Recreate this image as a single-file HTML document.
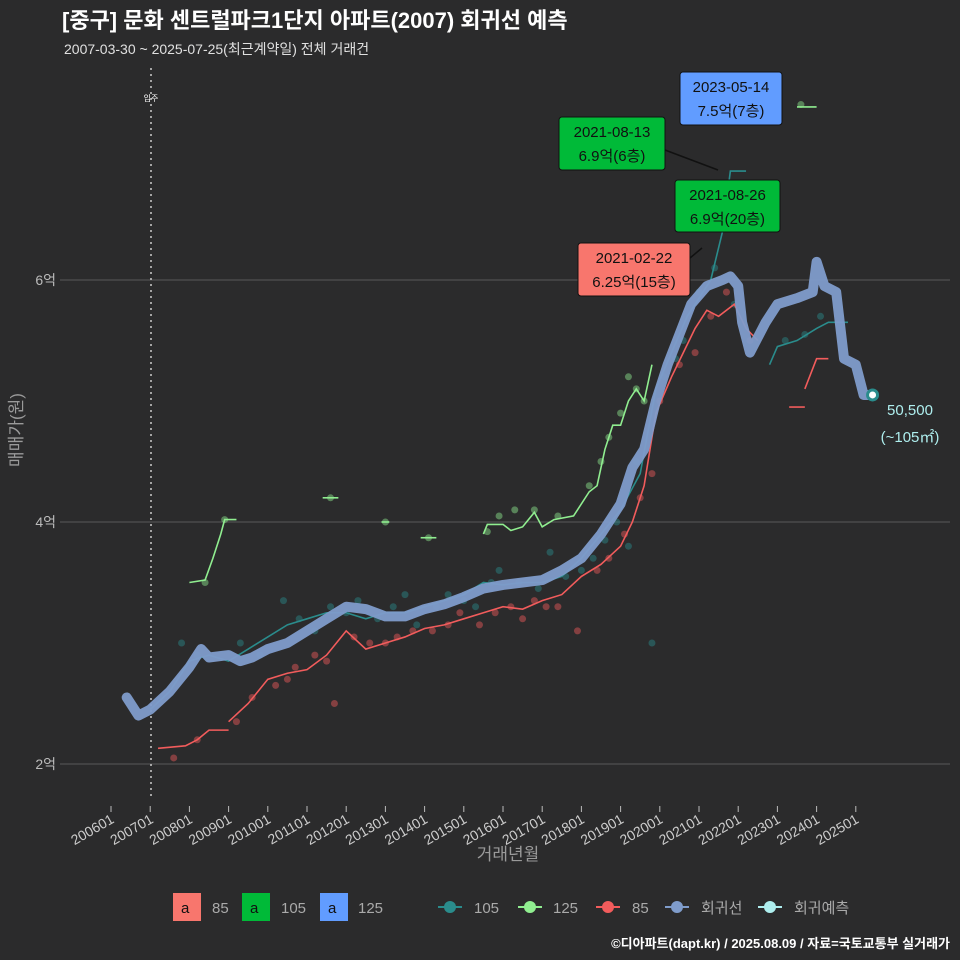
<!DOCTYPE html>
<html><head><meta charset="utf-8">
<style>
body{margin:0;background:#2b2b2c;}
svg{display:block;font-family:"Liberation Sans","Noto Sans CJK KR",sans-serif;}
</style></head>
<body>
<svg id="chart" width="960" height="960" viewBox="0 0 960 960" xmlns="http://www.w3.org/2000/svg">
<rect width="960" height="960" fill="#2b2b2c"/>
<text x="62" y="28" font-size="22" font-weight="bold" fill="#ffffff">[중구] 문화 센트럴파크1단지 아파트(2007) 회귀선 예측</text>
<text x="64" y="54" font-size="14" fill="#e0e0e0">2007-03-30 ~ 2025-07-25(최근계약일) 전체 거래건</text>
<g id="grid"></g>
<g id="marks"></g>
<g id="annot"></g>
<text x="22" y="430" font-size="17" fill="#9a9a9a" transform="rotate(-90 22 430)" text-anchor="middle">매매가(원)</text>
<text x="508" y="860" font-size="17" fill="#9a9a9a" text-anchor="middle">거래년월</text>
<g font-size="15" fill="#aaaaaa">
<rect x="173" y="893" width="28" height="28" fill="#f8766d"/><text x="181" y="913" fill="#111">a</text><text x="212" y="913">85</text>
<rect x="242" y="893" width="28" height="28" fill="#00ba38"/><text x="250" y="913" fill="#111">a</text><text x="281" y="913">105</text>
<rect x="320" y="893" width="28" height="28" fill="#619cff"/><text x="328" y="913" fill="#111">a</text><text x="358" y="913">125</text>
<g><line x1="438" y1="907" x2="462" y2="907" stroke="#2a8c8c" stroke-width="2"/><circle cx="450" cy="907" r="6" fill="#2a8c8c"/><text x="474" y="913">105</text></g>
<g><line x1="518" y1="907" x2="542" y2="907" stroke="#90ee90" stroke-width="2"/><circle cx="530" cy="907" r="6" fill="#90ee90"/><text x="553" y="913">125</text></g>
<g><line x1="596" y1="907" x2="620" y2="907" stroke="#f25c5c" stroke-width="2"/><circle cx="608" cy="907" r="6" fill="#f25c5c"/><text x="632" y="913">85</text></g>
<g><line x1="665" y1="907" x2="689" y2="907" stroke="#7f9ccb" stroke-width="2"/><circle cx="677" cy="907" r="6" fill="#7f9ccb"/><text x="701" y="913">회귀선</text></g>
<g><line x1="758" y1="907" x2="782" y2="907" stroke="#aeeeee" stroke-width="2"/><circle cx="770" cy="907" r="6" fill="#aeeeee"/><text x="794" y="913">회귀예측</text></g>
</g>
<text x="950" y="948" font-size="13" font-weight="bold" fill="#ffffff" text-anchor="end">©디아파트(dapt.kr) / 2025.08.09 / 자료=국토교통부 실거래가</text>
</svg>
<script>
const yTicks=[2,4,6];
const yTickLabels=["2억","4억","6억"];
const xTickYears=[2006,2007,2008,2009,2010,2011,2012,2013,2014,2015,2016,2017,2018,2019,2020,2021,2022,2023,2024,2025];
const xTickLabels=["200601","200701","200801","200901","201001","201101","201201","201301","201401","201501","201601","201701","201801","201901","202001","202101","202201","202301","202401","202501"];
const regT=[2006.4,2006.7,2007.0,2007.5,2008,2008.3,2008.5,2009,2009.3,2009.6,2010,2010.5,2011,2011.5,2012,2012.5,2013,2013.5,2014,2014.5,2015,2015.5,2016,2016.5,2017,2017.5,2018,2018.5,2019,2019.3,2019.6,2019.9,2020.2,2020.5,2020.8,2021.2,2021.6,2021.8,2022.0,2022.1,2022.3,2022.7,2023.0,2023.5,2023.9,2024.0,2024.2,2024.5,2024.7,2025.0,2025.2,2025.3];
const regV=[2.55,2.4,2.45,2.6,2.8,2.95,2.88,2.9,2.85,2.88,2.95,3.0,3.1,3.2,3.3,3.28,3.22,3.22,3.28,3.32,3.38,3.45,3.48,3.5,3.52,3.6,3.7,3.9,4.15,4.45,4.6,5.0,5.3,5.55,5.8,5.95,6.0,6.03,5.95,5.65,5.4,5.65,5.8,5.85,5.9,6.15,5.95,5.9,5.35,5.3,5.05,5.05];
const s105T=[[2007.0,2007.5,2008,2008.5,2009,2009.5,2010,2010.5,2011,2011.5,2012,2012.5,2013,2013.5,2014,2014.5,2015,2015.5,2016,2016.5,2017,2017.5,2018,2018.5,2019,2019.5,2019.9,2020.3,2020.7,2021,2021.3,2021.6,2021.8,2022.2],[2022.8,2023.0,2023.5,2024.0,2024.3,2024.8]];
const s105V=[[2.45,2.6,2.85,2.9,2.85,2.95,3.05,3.15,3.2,3.25,3.25,3.2,3.25,3.25,3.3,3.35,3.4,3.5,3.48,3.5,3.5,3.55,3.7,3.9,4.1,4.4,5.1,5.4,5.7,5.85,6.0,6.4,6.9,6.9],[5.3,5.45,5.5,5.6,5.65,5.65]];
const s125T=[[2008.0,2008.4,2008.6,2008.8,2008.9,2009.2],[2011.4,2011.8],[2012.9,2013.1],[2013.9,2014.3],[2015.5,2015.6,2016,2016.2,2016.5,2016.8,2017.0,2017.3,2017.8,2018.2,2018.4,2018.6,2018.8,2019.0,2019.2,2019.4,2019.6,2019.8],[2020.9,2021.1],[2023.5,2024.0]];
const s125V=[[3.5,3.52,3.7,3.9,4.02,4.02],[4.2,4.2],[4.0,4.0],[3.87,3.87],[3.9,3.98,3.98,3.93,3.96,4.08,3.96,4.02,4.05,4.25,4.3,4.6,4.8,4.8,5.0,5.1,5.0,5.3],[7.3,7.3],[7.43,7.43]];
const s85T=[[2007.2,2007.9,2008.2,2008.5,2009.0],[2009.0,2009.5,2010,2010.5,2011,2011.5,2012,2012.5,2013,2013.5,2014,2014.5,2015,2015.5,2016,2016.5,2017,2017.5,2018,2018.5,2019,2019.3,2019.6,2019.9,2020.3,2020.6,2020.9,2021.2,2021.5,2021.9,2022.2,2022.5],[2023.3,2023.7],[2023.7,2024.0,2024.3]];
const s85V=[[2.13,2.15,2.2,2.28,2.28],[2.35,2.5,2.7,2.75,2.78,2.9,3.1,2.95,3.0,3.05,3.12,3.15,3.2,3.25,3.3,3.28,3.35,3.4,3.55,3.65,3.8,4.0,4.3,4.9,5.2,5.4,5.6,5.75,5.7,5.8,5.6,5.5],[4.95,4.95],[5.1,5.35,5.35]];
const p105T=[2007.8,2008.2,2009.3,2009.8,2010.4,2010.8,2011.2,2011.6,2012.0,2012.3,2012.8,2013.2,2013.5,2013.8,2014.3,2014.6,2015.0,2015.3,2015.7,2015.9,2016.4,2016.9,2017.2,2017.6,2018.0,2018.3,2018.6,2018.9,2019.2,2019.4,2019.8,2020.1,2020.4,2020.6,2021.0,2021.4,2021.9,2023.2,2023.7,2024.1];
const p105V=[3.0,2.9,3.0,2.9,3.35,3.2,3.1,3.3,3.25,3.35,3.2,3.3,3.4,3.15,3.3,3.4,3.35,3.3,3.5,3.6,3.5,3.45,3.75,3.55,3.6,3.7,3.85,4.0,3.8,4.5,3.0,5.2,5.35,5.5,5.9,6.1,5.8,5.5,5.55,5.7];
const p125T=[2008.4,2008.9,2011.6,2013.0,2014.1,2015.6,2015.9,2016.3,2016.8,2017.4,2018.2,2018.5,2018.7,2019.0,2019.2,2019.4,2019.6,2021.1,2023.6];
const p125V=[3.5,4.02,4.2,4.0,3.87,3.92,4.05,4.1,4.1,4.05,4.3,4.5,4.7,4.9,5.2,5.1,5.0,7.35,7.45];
const p85T=[2007.6,2008.2,2009.2,2009.6,2010.2,2010.5,2010.7,2011.2,2011.5,2011.7,2012.2,2012.6,2013.0,2013.3,2013.7,2014.2,2014.6,2014.9,2015.4,2015.8,2016.2,2016.5,2016.8,2017.1,2017.4,2017.9,2018.4,2018.7,2019.1,2019.5,2019.8,2020.0,2020.5,2020.9,2021.3,2021.7,2022.3];
const p85V=[2.05,2.2,2.35,2.55,2.65,2.7,2.8,2.9,2.85,2.5,3.05,3.0,3.0,3.05,3.1,3.1,3.15,3.25,3.15,3.25,3.3,3.2,3.35,3.3,3.3,3.1,3.6,3.7,3.9,4.2,4.4,5.0,5.3,5.4,5.7,5.9,5.5];
const ns="http://www.w3.org/2000/svg";
const X=t=>111+(t-2006)*39.2;
const Y=v=>764-(v-2)*121;
function mk(tag,attrs,parent){const e=document.createElementNS(ns,tag);for(const k in attrs)e.setAttribute(k,attrs[k]);parent.appendChild(e);return e;}
const grid=document.getElementById('grid'),marks=document.getElementById('marks'),annot=document.getElementById('annot');
yTicks.forEach((v,i)=>{
 const l=mk('line',{x1:60,x2:950,y1:Y(v),y2:Y(v),stroke:'#5a5a5a','stroke-width':1},grid);
 
 
 const t=mk('text',{x:56,y:Y(v)+5,'font-size':14,fill:'#bbbbbb','text-anchor':'end'},grid);
 t.textContent=yTickLabels[i];
 
 
});
xTickYears.forEach((yr,i)=>{
 const x=X(yr);
 const l=mk('line',{x1:x,x2:x,y1:806,y2:812,stroke:'#bbbbbb'},grid);
 
 
 const t=mk('text',{x:x+4,y:822,'font-size':14,fill:'#cccccc','text-anchor':'end',transform:`rotate(-30 ${x+4} 822)`},grid);
 t.textContent=xTickLabels[i];
 
 
});
const mv=mk('line',{x1:151,x2:151,y1:68,y2:800,stroke:'#cccccc','stroke-width':1.5,'stroke-dasharray':'2,4'},grid);


const mvt=mk('text',{x:151,y:101,'font-size':8,fill:'#ffffff','text-anchor':'middle'},grid);
mvt.textContent='입주';


function pts(T,V,color,name){T.forEach((t,i)=>{const c=mk('circle',{cx:X(t),cy:Y(V[i]),r:3.5,fill:color,'fill-opacity':0.45},marks);
 
 });}
pts(p105T,p105V,'#2a8c8c','point-105');pts(p125T,p125V,'#90ee90','point-125');pts(p85T,p85V,'#f25c5c','point-85');
function lines(TT,VV,color,name){TT.forEach((T,j)=>{const d=T.map((t,i)=>(i?'L':'M')+X(t)+','+Y(VV[j][i])).join('');
 const p=mk('path',{d:d,fill:'none',stroke:color,'stroke-width':1.6},marks);
 
 });}
lines(s105T,s105V,'#2a8c8c','line-105');lines(s125T,s125V,'#90ee90','line-125');lines(s85T,s85V,'#f25c5c','line-85');
const rd=regT.map((t,i)=>(i?'L':'M')+X(t)+','+Y(regV[i])).join('');
const rp=mk('path',{d:rd,fill:'none',stroke:'#7f9ccb','stroke-width':10,'stroke-linejoin':'round','stroke-linecap':'round','stroke-opacity':0.95},marks);


const lt=regT[regT.length-1],lv=regV[regV.length-1];
const ec=mk('circle',{cx:X(lt)+5,cy:Y(lv),r:5,fill:'#ffffff',stroke:'#2a8c8c','stroke-width':3},marks);


function box(x,y,w,h,fill,l1,l2,name){const g=mk('g',{},annot);
 
 
 mk('rect',{x:x,y:y,width:w,height:h,rx:3,fill:fill,stroke:'#111','stroke-width':1},g);
 const a=mk('text',{x:x+w/2,y:y+20,'font-size':15,fill:'#111','text-anchor':'middle'},g);a.textContent=l1;
 const b=mk('text',{x:x+w/2,y:y+44,'font-size':15,fill:'#111','text-anchor':'middle'},g);b.textContent=l2;}
mk('line',{x1:665,y1:150,x2:718,y2:170,stroke:'#111','stroke-width':1.5},annot);
mk('line',{x1:690,y1:258,x2:702,y2:248,stroke:'#111','stroke-width':1.5},annot);
box(680,72,102,53,'#619cff','2023-05-14','7.5억(7층)','annotation-max-125');
box(559,117,106,53,'#00ba38','2021-08-13','6.9억(6층)','annotation-105-a');
box(675,180,105,52,'#00ba38','2021-08-26','6.9억(20층)','annotation-105-b');
box(578,243,112,53,'#f8766d','2021-02-22','6.25억(15층)','annotation-max-85');
const e1=mk('text',{x:910,y:415,'font-size':15,fill:'#aeeeee','text-anchor':'middle'},annot);e1.textContent='50,500';


const e2=mk('text',{x:910,y:442,'font-size':15,fill:'#aeeeee','text-anchor':'middle'},annot);e2.textContent='(~105㎡)';


</script>
</body></html>
